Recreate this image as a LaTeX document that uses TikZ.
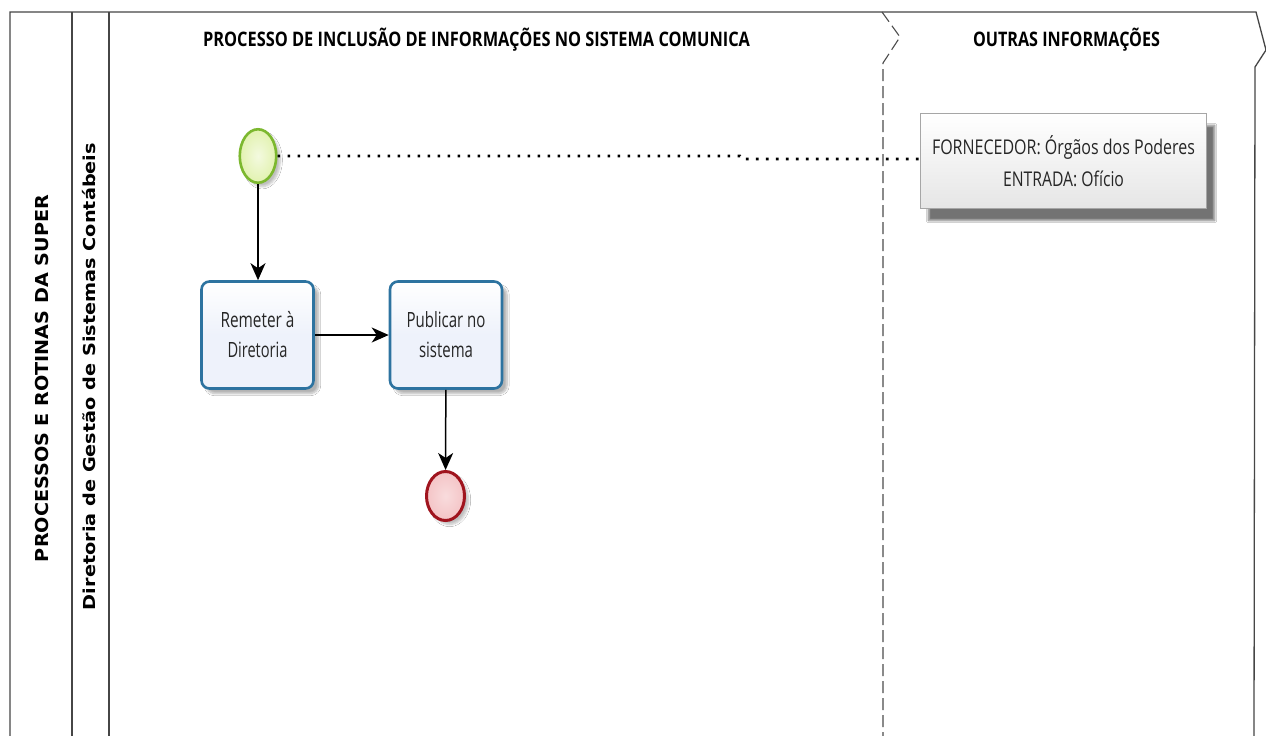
\documentclass[tikz,border=0pt]{standalone}
\usepackage{graphicx}
\usepackage{fontspec}
\setmainfont{Open Sans}
\newfontfamily\vfont{DejaVu Sans}
\usetikzlibrary{shadows,shadows.blur,arrows.meta,shapes.geometric}
\definecolor{taskline}{RGB}{45,115,160}
\definecolor{taskfill}{RGB}{238,242,251}
\definecolor{startline}{RGB}{124,184,47}
\definecolor{startfill}{RGB}{226,242,176}
\definecolor{endline}{RGB}{160,20,30}
\definecolor{endfill}{RGB}{244,196,198}
\definecolor{frameline}{RGB}{70,70,70}
\newlength\fbw
\newlength\fbh
\newcommand\fitbox[3]{\settowidth\fbw{#3}\setlength\fbh{\fontcharht\font`H}\scalebox{\fpeval{#1/\fbw}}[\fpeval{#2/\fbh}]{#3}}
\tikzset{
  frame/.style={draw=frameline, line width=1.3pt},
  phase/.style={draw=black!70, line width=1.1pt, dash pattern=on 12pt off 5pt},
  taskbox/.style={rectangle, rounded corners=8pt, draw=taskline, line width=2.6pt,
    top color=white, bottom color=taskfill, middle color=taskfill,
    minimum width=112pt, minimum height=107pt, inner sep=0pt, align=center,
    font=\fontsize{15}{30}\selectfont, text=black!85,
    blur shadow={shadow xshift=5pt, shadow yshift=-5pt, shadow blur steps=8, shadow opacity=30}},
  startev/.style={ellipse, draw=startline, line width=2.6pt, inner color=white!60!startfill, outer color=startfill,
    minimum width=36.5pt, minimum height=53.5pt, inner sep=0pt,
    blur shadow={shadow xshift=4pt, shadow yshift=-4pt, shadow blur steps=6, shadow opacity=25}},
  endev/.style={ellipse, draw=endline, line width=3pt, inner color=white!40!endfill, outer color=endfill,
    minimum width=38pt, minimum height=49pt, inner sep=0pt,
    blur shadow={shadow xshift=4pt, shadow yshift=-4pt, shadow blur steps=6, shadow opacity=25}},
  annot/.style={rectangle, draw=black!35, line width=1pt, top color=white, bottom color=black!10,
    minimum width=286pt, minimum height=95pt, inner sep=0pt, align=center,
    font=\fontsize{15}{31.5}\selectfont, text=black!85,
    blur shadow={shadow xshift=8pt, shadow yshift=-12pt, shadow blur steps=10, shadow opacity=55}},
  flow/.style={draw=black, line width=1.5pt, -{Stealth[length=17pt, width=15pt, inset=5pt]}},
  assoc/.style={draw=black, line width=2.6pt, dash pattern=on 2.6pt off 7.4pt},
  title/.style={font=\bfseries\fontsize{16}{18}\selectfont, anchor=base, inner sep=0pt},
  lanetitle/.style={font=\vfont\bfseries\fontsize{16}{18}\selectfont, anchor=base, rotate=90, inner sep=0pt},
}
\begin{document}
\begin{tikzpicture}[x=1pt, y=-1pt]
\useasboundingbox[fill=white] (0,0) rectangle (1266,736);
% pool and lanes
\draw[frame] (10,736) -- (10,12) -- (1256,12) -- (1266,50) -- (1255,67) -- (1254,736);
\draw[frame, line width=1.1pt] (72,12) -- (72,736);
\draw[frame, line width=1.1pt] (109,12) -- (109,736);
% phase separator
\draw[phase] (882,12) -- (900,37) -- (883,63) -- (883,736);
% titles
\node[title] (t-proc) at (476.5,46) {\fitbox{547}{14.3}{PROCESSO DE INCLUSÃO DE INFORMAÇÕES NO SISTEMA COMUNICA}};
\node[title] (t-outras) at (1066.5,46) {\fitbox{187}{14.3}{OUTRAS INFORMAÇÕES}};
\node[lanetitle] (t-pool) at (48,378.5) {\fitbox{367}{13}{PROCESSOS E ROTINAS DA SUPER}};
\node[lanetitle] (t-lane) at (95,376.5) {\fitbox{467}{12}{Diretoria de Gestão de Sistemas Contábeis}};
% elements
\node[startev] (start) at (258,156) {};
\node[taskbox] (t1) at (257.5,335) {\fitbox{74}{15}{Remeter à}\\\fitbox{60}{15}{Diretoria}};
\node[taskbox] (t2) at (446,335) {\fitbox{79}{15}{Publicar no}\\\fitbox{54}{15}{sistema}};
\node[endev] (end) at (445.5,496) {};
\node[annot] (ann) at (1063.5,161) {\fitbox{263}{14.5}{FORNECEDOR: Órgãos dos Poderes}\\\fitbox{121}{14.5}{ENTRADA: Ofício}};
% connectors
\draw[flow] (start) -- (start |- t1.north);
\draw[flow] (t1) -- (t2);
\draw[flow] (t2) -- (end);
\coordinate (b1) at (740,156);
\coordinate (b2) at (742,159);
\draw[assoc] (start.east) -- (b1) -- (b2) -- (b2 -| ann.west);
\end{tikzpicture}
\end{document}
